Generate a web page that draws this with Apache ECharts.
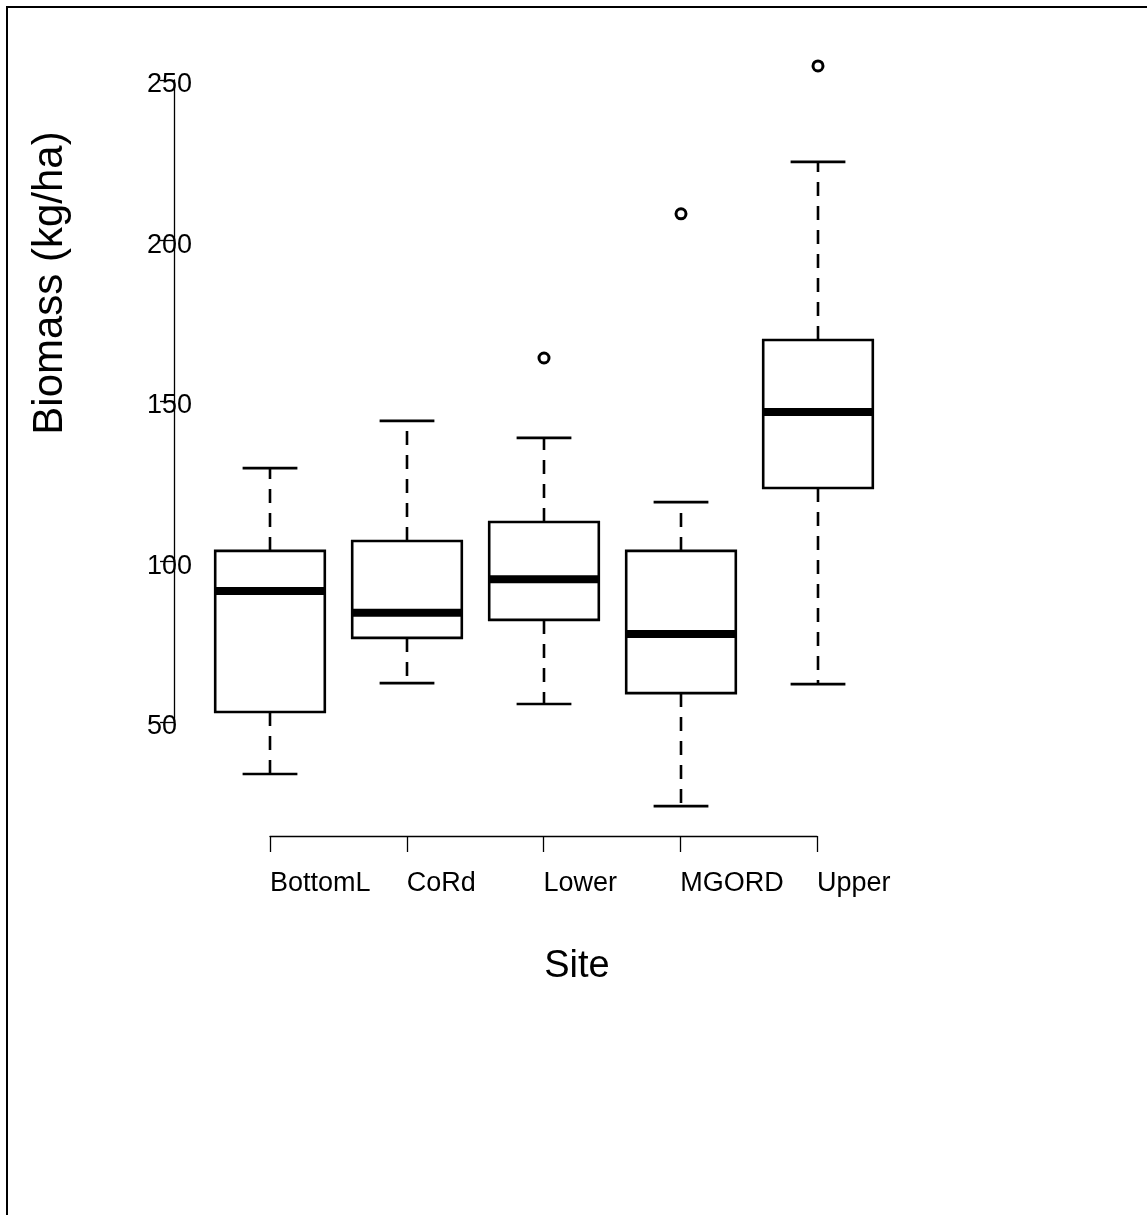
<!DOCTYPE html>
<html>
<head>
<meta charset="utf-8">
<script src="https://cdn.jsdelivr.net/npm/echarts@6/dist/echarts.min.js"></script>
<style>
html,body{margin:0;padding:0;background:#fff;}
#chart{width:1147px;height:1215px;}
</style>
</head>
<body>
<div id="chart"></div>
<script>
// ---- data ----
var categories = ['BottomL', 'CoRd', 'Lower', 'MGORD', 'Upper'];
var lowerWhisker = [33.8, 62.1, 55.6, 23.8, 61.8];
var q1Values     = [53.1, 76.2, 81.8, 59.0, 122.9];
var medianValues = [90.8, 84.0, 94.5, 77.4, 146.6];
var q3Values     = [103.3, 106.4, 112.3, 103.3, 169.0];
var upperWhisker = [129.1, 143.8, 138.5, 118.5, 224.5];
var outlierCats   = [2, 3, 4];
var outlierValues = [163.4, 208.3, 254.4];
var yTicks = [50, 100, 150, 200, 250];
var xTicks = [1, 2, 3, 4, 5];

// ---- layout ----
var yAxisX = 174, yTop = 80, yBottom = 722;          // 250 -> yTop, 50 -> yBottom
var ppu = (yBottom - yTop) / 200;
var plotMin = 20, plotMax = 260;
var plotTop = yTop - (plotMax - 250) * ppu;
var plotHeight = (plotMax - plotMin) * ppu;
var bandW = 137, firstCenter = 270;
var plotLeft = firstCenter - bandW / 2;

var boxRows = categories.map(function (c, i) {
  return [i, lowerWhisker[i], q1Values[i], medianValues[i], q3Values[i], upperWhisker[i]];
});
var outlierRows = outlierCats.map(function (c, i) { return [c, outlierValues[i]]; });

var FONT = '"Liberation Sans", Arial, sans-serif';
var chart = echarts.init(document.getElementById('chart'));

chart.setOption({
  animation: false,
  backgroundColor: '#ffffff',
  grid: [
    { left: plotLeft, width: bandW * categories.length, top: plotTop, height: plotHeight },
    { left: yAxisX, width: 10, top: yTop, height: yBottom - yTop },
    { left: firstCenter, width: bandW * 4 - 1, top: 835, height: 1 }
  ],
  xAxis: [
    { gridIndex: 0, type: 'category', data: categories, show: false },
    { gridIndex: 1, type: 'value', show: false },
    {
      gridIndex: 2, type: 'value', min: 1, max: 5, interval: 1, position: 'bottom',
      axisLine: { show: true, lineStyle: { color: '#000', width: 1.3 } },
      axisTick: { show: true, length: 16, lineStyle: { color: '#000', width: 1.3 } },
      splitLine: { show: false },
      axisLabel: {
        show: true, margin: 34, align: 'left', color: '#000', fontSize: 27, fontFamily: FONT,
        formatter: function (v) { return categories[Math.round(v) - 1]; }
      }
    }
  ],
  yAxis: [
    { gridIndex: 0, type: 'value', min: plotMin, max: plotMax, show: false },
    {
      gridIndex: 1, type: 'value', min: 50, max: 250, interval: 50, position: 'left',
      axisLine: { show: true, lineStyle: { color: '#000', width: 1.3 } },
      axisTick: { show: true, length: 14, lineStyle: { color: '#000', width: 1.3 } },
      splitLine: { show: false },
      axisLabel: { show: true, margin: 27, align: 'left', verticalAlign: 'top', lineHeight: 10,
                   color: '#000', fontSize: 27, fontFamily: FONT }
    },
    { gridIndex: 2, type: 'value', show: false }
  ],
  series: [
    {
      type: 'custom',
      xAxisIndex: 0, yAxisIndex: 0,
      data: boxRows,
      encode: { x: 0, y: [1, 2, 3, 4, 5] },
      renderItem: function (params, api) {
        var i = api.value(0);
        var x = api.coord([i, api.value(3)])[0];
        var bw = api.size([1, 0])[0] * 0.8;
        var hw = bw / 2, cw = bw / 4;
        var yLo = api.coord([i, api.value(1)])[1];
        var yQ1 = api.coord([i, api.value(2)])[1];
        var yMed = api.coord([i, api.value(3)])[1];
        var yQ3 = api.coord([i, api.value(4)])[1];
        var yHi = api.coord([i, api.value(5)])[1];
        var solid = { stroke: '#000', lineWidth: 2.6, fill: null };
        var dashed = { stroke: '#000', lineWidth: 2.6, lineDash: [14, 10], fill: null };
        return {
          type: 'group',
          children: [
            { type: 'line', shape: { x1: x, y1: yQ3, x2: x, y2: yHi }, style: dashed },
            { type: 'line', shape: { x1: x, y1: yQ1, x2: x, y2: yLo }, style: dashed },
            { type: 'line', shape: { x1: x - cw, y1: yHi, x2: x + cw, y2: yHi }, style: solid },
            { type: 'line', shape: { x1: x - cw, y1: yLo, x2: x + cw, y2: yLo }, style: solid },
            { type: 'rect', shape: { x: x - hw, y: yQ3, width: bw, height: yQ1 - yQ3 },
              style: { stroke: '#000', lineWidth: 2.6, fill: '#fff' } },
            { type: 'line', shape: { x1: x - hw, y1: yMed, x2: x + hw, y2: yMed },
              style: { stroke: '#000', lineWidth: 8 } }
          ]
        };
      }
    },
    {
      type: 'scatter',
      xAxisIndex: 0, yAxisIndex: 0,
      data: outlierRows,
      symbol: 'circle',
      symbolSize: 10,
      itemStyle: { color: '#fff', borderColor: '#000', borderWidth: 3, opacity: 1 },
      emphasis: { disabled: true }
    }
  ],
  graphic: [
    { type: 'rect', shape: { x: 7, y: 7, width: 1200, height: 1300 },
      style: { fill: 'none', stroke: '#000', lineWidth: 2 }, silent: true },
    { type: 'text', x: 50, y: 283, rotation: Math.PI / 2,
      style: { text: 'Biomass (kg/ha)', font: '42px ' + FONT, fill: '#000', textAlign: 'center', textVerticalAlign: 'middle' } },
    { type: 'text', x: 577, y: 967,
      style: { text: 'Site', font: '38px ' + FONT, fill: '#000', textAlign: 'center', textVerticalAlign: 'middle' } }
  ]
});
</script>
</body>
</html>
